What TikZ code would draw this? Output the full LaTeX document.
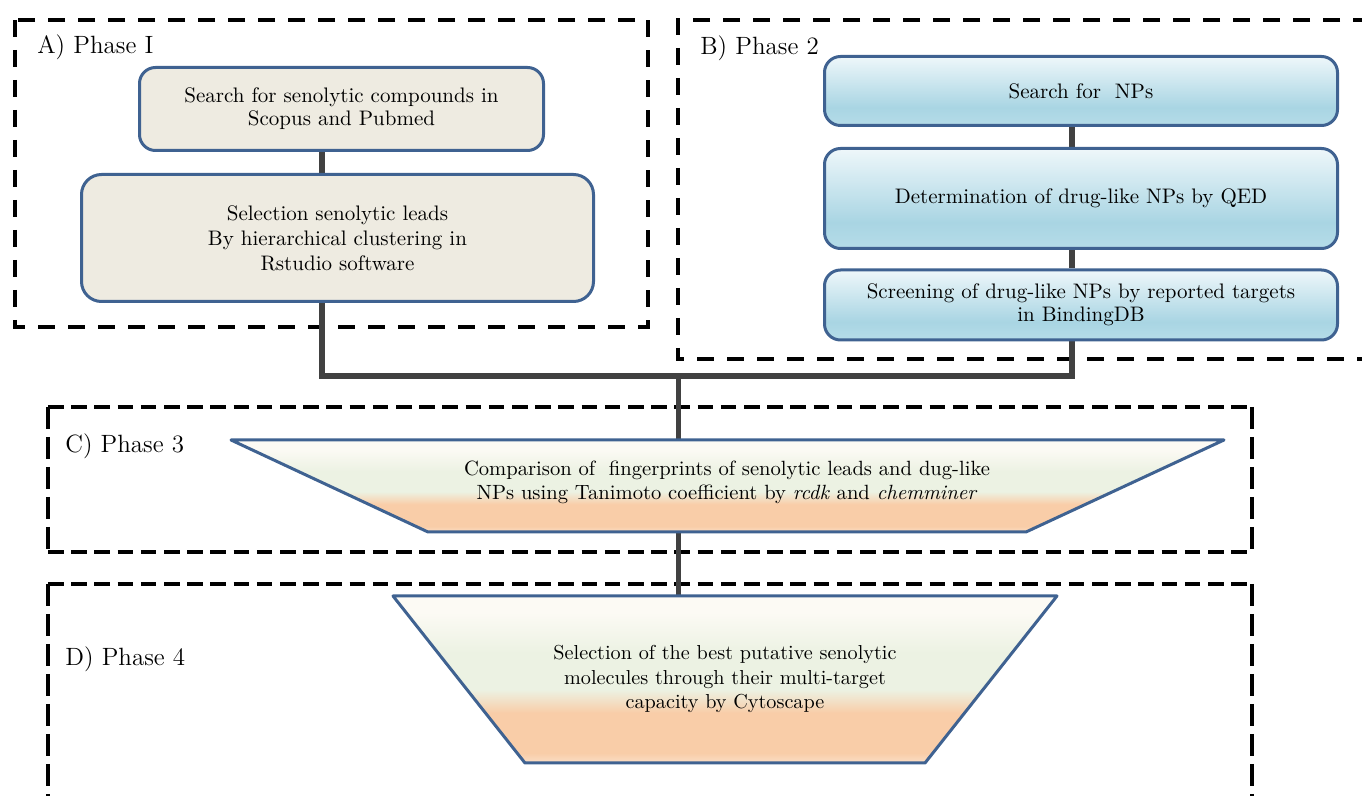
\documentclass[tikz,border=0pt]{standalone}
\usetikzlibrary{calc,backgrounds}
\definecolor{bordercol}{HTML}{3F6291}
\definecolor{fillA}{HTML}{EEEBE1}
\definecolor{linecol}{HTML}{414141}
\definecolor{bTop}{HTML}{EEF7FA}
\definecolor{bMid}{HTML}{A9D5E3}
\definecolor{bBot}{HTML}{B5DCE8}
\definecolor{tCream}{HTML}{FCFAF4}
\definecolor{tGreen}{HTML}{ECF2E3}
\definecolor{tPeach}{HTML}{F9CDA8}
\definecolor{tPeachL}{HTML}{FBDEC6}
\pgfdeclareverticalshading{bshade}{100bp}{color(0bp)=(bBot); color(25bp)=(bBot); color(38bp)=(bMid); color(75bp)=(bTop); color(100bp)=(bTop)}
\pgfdeclareverticalshading{tshade}{100bp}{color(0bp)=(tPeachL); color(25bp)=(tPeachL); color(28bp)=(tPeach); color(40bp)=(tPeach); color(47bp)=(tGreen); color(58bp)=(tGreen); color(70bp)=(tCream); color(100bp)=(tCream)}
\tikzset{
  phasebox/.style={draw=black, line width=2pt, dash pattern=on 8.5pt off 6.5pt},
  phaseboxh/.style={draw=black, line width=2pt, dash pattern=on 7.8pt off 3.8pt},
  phaseboxv/.style={draw=black, line width=2pt, dash pattern=on 11pt off 4pt},
  abox/.style={draw=bordercol, line width=1.5pt, fill=fillA, rounded corners=8pt, align=center, inner sep=0pt},
  bbox/.style={draw=bordercol, line width=1.5pt, shading=bshade, rounded corners=8pt, align=center, inner sep=0pt, minimum width=256.5pt},
  trap/.style={draw=bordercol, line width=1.5pt, shading=tshade, line join=round},
  conn/.style={draw=linecol, line width=3pt},
  connthin/.style={draw=linecol, line width=2.5pt},
  phaselabel/.style={anchor=base west, inner sep=0pt, font=\fontsize{12.5}{14}\selectfont},
  txt/.style={align=center, inner sep=0pt}
}
\begin{document}
\begin{tikzpicture}[x=0.5pt, y=-0.5pt]
\useasboundingbox (0,0) rectangle (1362,796);
% labels
\node[phaselabel] (la) at (37,54) {A) Phase I};
\node[phaselabel] (lb) at (700,55) {B) Phase 2};
\node[phaselabel] (lc) at (65,453) {C) Phase 3};
\node[phaselabel] (ld) at (65,666) {D) Phase 4};
% junction coordinates
\coordinate (ja) at (322,376);
\coordinate (jm) at (678,376);
\coordinate (jb) at (1072,376);
% boxes phase A
\node[abox, minimum width=202pt, minimum height=41.5pt, font=\fontsize{10.5}{11.5}\selectfont] (A1) at (341.5,109) {Search for senolytic compounds in\\Scopus and Pubmed};
\node[abox, rounded corners=10pt, minimum width=256pt, minimum height=63.5pt, font=\fontsize{10.5}{12.5}\selectfont] (A2) at (337.5,238) {Selection senolytic leads\\By hierarchical clustering in\\Rstudio software};
% boxes phase B
\node[bbox, minimum height=34.5pt, font=\fontsize{10.5}{11.5}\selectfont] (B1) at (1081,91) {Search for\ \ NPs};
\node[bbox, minimum height=50pt, font=\fontsize{10.5}{11.5}\selectfont] (B2) at (1081,198.5) {Determination of drug-like NPs by QED};
\node[bbox, minimum height=35pt, font=\fontsize{10.5}{11.5}\selectfont] (B3) at (1081,305) {Screening of drug-like NPs by reported targets\\in BindingDB};
% trapezoid corner coordinates
\coordinate (Ctl) at (231,440);
\coordinate (Ctr) at (1224,440);
\coordinate (Cbr) at (1026,532);
\coordinate (Cbl) at (428,532);
\coordinate (Dtl) at (393,596);
\coordinate (Dtr) at (1057,596);
\coordinate (Dbr) at (925,763);
\coordinate (Dbl) at (525,763);
% trapezoids
\path[trap] (Ctl) -- (Ctr) -- (Cbr) -- (Cbl) -- cycle;
\path[trap] (Dtl) -- (Dtr) -- (Dbr) -- (Dbl) -- cycle;
\node[txt, font=\fontsize{10.3}{12}\selectfont] (C) at (727,482) {Comparison of\ \ fingerprints of senolytic leads and dug-like\\NPs using Tanimoto coefficient by \textit{rcdk} and \textit{chemminer}};
\node[txt, font=\fontsize{10.1}{12.2}\selectfont] (D) at (725,679) {Selection of the best putative senolytic\\molecules through their multi-target\\capacity by Cytoscape};
% frames and connectors behind
\begin{scope}[on background layer]
\draw[phasebox] (15,20) rectangle (648,327);
\draw[phasebox] (1400,20) -- (678,20) -- (678,359) -- (1400,359);
\draw[phaseboxh] (48,407) -- (1252,407);
\draw[phaseboxh] (48,552) -- (1252,552);
\draw[phaseboxv] (48,407) -- (48,552);
\draw[phaseboxv] (1252,407) -- (1252,552);
\draw[phaseboxh] (48,584) -- (1252,584);
\draw[phaseboxv] (48,584) -- (48,820);
\draw[phaseboxv] (1252,584) -- (1252,820);
\draw[conn] (A1.south -| ja) -- (A2.north -| ja);
\draw[conn, line join=miter] (A2.south -| ja) -- (ja) -- (jb) -- (B3.south -| jb);
\draw[conn] (B1.south -| jb) -- (B2.north -| jb);
\draw[conn] (B2.south -| jb) -- (B3.north -| jb);
\draw[connthin] (jm) -- (Ctl -| jm);
\draw[connthin] (Cbl -| jm) -- (Dtl -| jm);
\end{scope}
\end{tikzpicture}
\end{document}
